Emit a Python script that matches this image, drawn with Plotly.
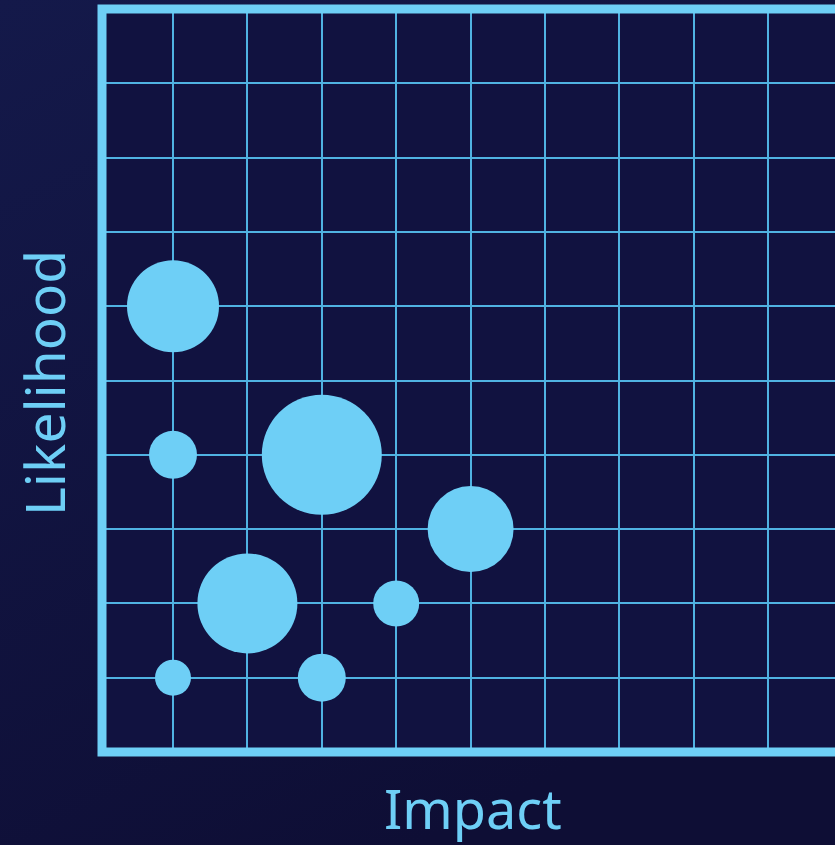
import base64
import plotly.graph_objects as go

# Data
impact = [1, 1, 3, 5, 2, 4, 1, 3]
likelihood = [6, 4, 4, 3, 2, 2, 1, 1]
exposure = [23, 12, 30, 21.5, 25, 11.5, 9, 12]

x_title = "Impact"
y_title = "Likelihood"

W, H = 835, 845
ML, MR, MT, MB = 102, 0, 9, 93
PW, PH = W - ML - MR, H - MT - MB

LIGHT = "#6ecff6"
GRID = "#50b2e2"

svg = f"""<svg xmlns='http://www.w3.org/2000/svg' width='{W}' height='{H}' viewBox='0 0 {W} {H}' preserveAspectRatio='none'>
<defs><linearGradient id='g' x1='0' y1='0' x2='0.5' y2='1'>
<stop offset='0' stop-color='#14194a'/><stop offset='1' stop-color='#0e0e35'/></linearGradient></defs>
<rect width='{W}' height='{H}' fill='url(#g)'/></svg>"""
bg_src = "data:image/svg+xml;base64," + base64.b64encode(svg.encode()).decode()

fig = go.Figure()
fig.add_trace(go.Scatter(
    x=impact, y=likelihood, mode="markers",
    marker=dict(size=exposure, sizemode="diameter", sizeref=0.25,
                color=LIGHT, line=dict(width=0), opacity=1),
    hoverinfo="skip", showlegend=False,
))

unit = 74.4
x0 = (ML - 98.6) / unit
fig.update_xaxes(range=[x0, x0 + PW / unit], dtick=1, tick0=0, showgrid=True,
                 gridcolor=GRID, gridwidth=1.7, zeroline=False, showline=False,
                 showticklabels=False, ticks="")
fig.update_yaxes(range=[0, 10], dtick=1, tick0=0, showgrid=True,
                 gridcolor=GRID, gridwidth=1.7, zeroline=False, showline=False,
                 showticklabels=False, ticks="")

fig.add_shape(type="rect", xref="paper", yref="paper", x0=0, x1=1, y0=0, y1=1,
              fillcolor="#111240", line=dict(width=0), layer="below")
fig.add_shape(type="path", xref="paper", yref="paper",
              path="M 1.05,1 L 0,1 L 0,0 L 1.05,0",
              line=dict(color=LIGHT, width=9))

fig.add_annotation(text=x_title, xref="paper", yref="paper",
                   x=(473 - ML) / PW, y=-(808 - (H - MB)) / PH,
                   xanchor="center", yanchor="middle", showarrow=False,
                   font=dict(family="Noto Sans", size=54, color=LIGHT))
fig.add_annotation(text=y_title, xref="paper", yref="paper", textangle=-90,
                   x=(43 - ML) / PW, y=((H - MB) - 383) / PH,
                   xanchor="center", yanchor="middle", showarrow=False,
                   font=dict(family="Noto Sans", size=55, color=LIGHT))

fig.update_layout(
    width=W, height=H,
    margin=dict(l=ML, r=MR, t=MT, b=MB, pad=0),
    paper_bgcolor="#11123d", plot_bgcolor="rgba(0,0,0,0)",
    images=[dict(source=bg_src, xref="paper", yref="paper",
                 x=-ML / PW, y=1 + MT / PH, sizex=W / PW, sizey=H / PH,
                 xanchor="left", yanchor="top", sizing="stretch", layer="below")],
)

fig.write_html(
    "out.html",
    config={"displayModeBar": False},
    post_script="document.body.style.margin='0';document.body.style.overflow='hidden';",
)
